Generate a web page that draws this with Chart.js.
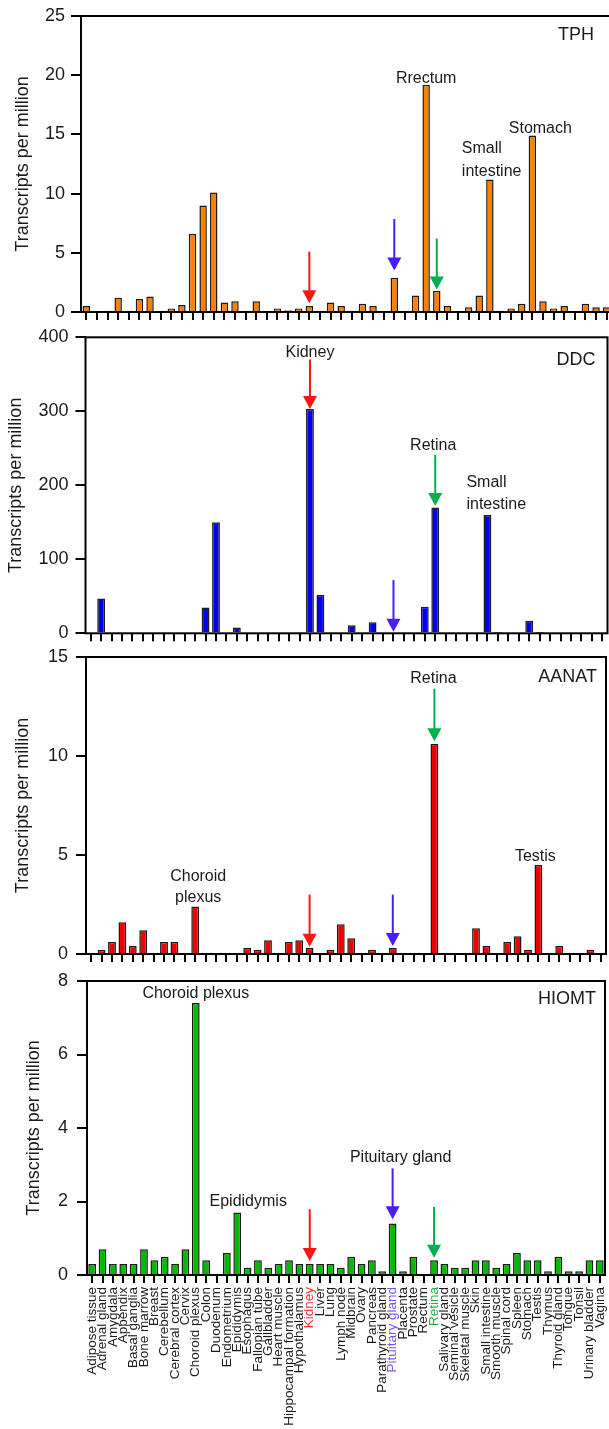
<!DOCTYPE html>
<html>
<head>
<meta charset="utf-8">
<script src="https://cdn.jsdelivr.net/npm/chart.js@4.4.1/dist/chart.umd.min.js"></script>
<style>
  body { margin: 0; width: 609px; height: 1429px; overflow: hidden; background: #fff; position: relative; }
  .panel { position: absolute; left: 0; }
</style>
</head>
<body>
<div class="panel" style="top:0px"><canvas id="tph" width="614" height="322"></canvas></div>
<div class="panel" style="top:322px"><canvas id="ddc" width="609" height="323"></canvas></div>
<div class="panel" style="top:645px"><canvas id="aanat" width="609" height="321"></canvas></div>
<div class="panel" style="top:966px"><canvas id="hiomt" width="609" height="463"></canvas></div>
<script>
// tissues (x categories)
const tissues = ["Adipose tissue", "Adrenal gland", "Amygdala", "Appendix", "Basal ganglia", "Bone marrow",
  "Breast", "Cerebellum", "Cerebral cortex", "Cervix", "Choroid plexus", "Colon", "Duodenum", "Endometrium",
  "Epididymis", "Esophagus", "Fallopian tube", "Gallbladder", "Heart muscle", "Hippocampal formation",
  "Hypothalamus", "Kidney", "Liver", "Lung", "Lymph node", "Midbrain", "Ovary", "Pancreas", "Parathyroid gland",
  "Pituitary gland", "Placenta", "Prostate", "Rectum", "Retina", "Salivary gland", "Seminal vesicle",
  "Skeletal muscle", "Skin", "Small intestine", "Smooth muscle", "Spinal cord", "Spleen", "Stomach", "Testis",
  "Thymus", "Thyroid gland", "Tongue", "Tonsil", "Urinary bladder", "Vagina"];

// transcripts per million
const tphValues = [0.5, 0, 0.1, 1.2, 0.1, 1.1, 1.3, 0.1, 0.3, 0.6, 6.6, 9.0, 10.1, 0.8, 0.9, 0.1, 0.9, 0, 0.3, 0.15,
  0.3, 0.5, 0.1, 0.8, 0.5, 0.1, 0.7, 0.5, 0, 2.9, 0.1, 1.4, 19.2, 1.8, 0.5, 0, 0.4, 1.4, 11.2, 0.1,
  0.3, 0.7, 14.9, 0.9, 0.3, 0.5, 0, 0.7, 0.4, 0.4];
const ddcValues = [0, 47, 0, 1, 0, 0, 0, 0, 0, 0, 0, 35, 150, 0, 8, 0, 0, 0, 0, 0,
  1, 303, 52, 1, 0, 11, 0, 15, 0, 0, 0, 0, 36, 170, 0, 0, 0, 0, 160, 0.5,
  0, 0, 17, 0.5, 0, 0, 0, 0, 0, 0];
const aanatValues = [0, 0.2, 0.6, 1.6, 0.4, 1.2, 0, 0.6, 0.6, 0.05, 2.4, 0.05, 0.05, 0.05, 0.05, 0.3, 0.2, 0.7, 0.05, 0.6,
  0.7, 0.3, 0, 0.2, 1.5, 0.8, 0.05, 0.2, 0, 0.3, 0, 0.05, 0, 10.6, 0.05, 0, 0, 1.3, 0.4, 0,
  0.6, 0.9, 0.2, 4.5, 0, 0.4, 0, 0.05, 0.2, 0];
const hiomtValues = [0.3, 0.7, 0.3, 0.3, 0.3, 0.7, 0.4, 0.5, 0.3, 0.7, 7.4, 0.4, 0, 0.6, 1.7, 0.2, 0.4, 0.2, 0.3, 0.4,
  0.3, 0.3, 0.3, 0.3, 0.2, 0.5, 0.3, 0.4, 0.1, 1.4, 0.1, 0.5, 0, 0.4, 0.3, 0.2, 0.2, 0.4, 0.4, 0.2,
  0.3, 0.6, 0.4, 0.4, 0.1, 0.5, 0.1, 0.1, 0.4, 0.4];

const RED = "#ff1414", BLUE = "#4a1cff", GREEN = "#00b050";
const labelColors = { "Kidney": "#ff2a2a", "Pituitary gland": "#7a55ff", "Retina": "#1db34a" };
const FONT = "'Liberation Sans', Arial, Helvetica, sans-serif";

Chart.defaults.font.family = FONT;
Chart.defaults.color = "#1a1a1a";

// frame, panel name, annotations and arrows
const notesPlugin = {
  id: "notes",
  afterDraw(chart, args, o) {
    const { ctx, chartArea: a } = chart;
    const x = chart.scales.x, y = chart.scales.y;
    ctx.save();
    ctx.strokeStyle = "#000";
    ctx.lineWidth = 2;
    ctx.strokeRect(a.left, a.top, a.right - a.left, a.bottom - a.top);

    ctx.fillStyle = "#1a1a1a";
    ctx.textBaseline = "middle";
    ctx.textAlign = "right";
    ctx.font = "18px " + FONT;
    ctx.fillText(o.title, a.right - o.titleRight, a.top + o.titleTop);

    ctx.font = "16px " + FONT;
    o.labels.forEach(l => {
      ctx.textAlign = l.align || "center";
      ctx.fillText(l.text, x.getPixelForValue(l.i) + (l.dx || 0), y.getPixelForValue(l.y));
    });

    o.arrows.forEach(ar => {
      const px = x.getPixelForValue(ar.i);
      const y0 = y.getPixelForValue(ar.from), y1 = y.getPixelForValue(ar.to);
      ctx.strokeStyle = ar.color;
      ctx.fillStyle = ar.color;
      ctx.lineWidth = 2;
      ctx.beginPath();
      ctx.moveTo(px, y0);
      ctx.lineTo(px, y1 - 11);
      ctx.stroke();
      ctx.beginPath();
      ctx.moveTo(px - 7, y1 - 13);
      ctx.lineTo(px + 7, y1 - 13);
      ctx.lineTo(px, y1);
      ctx.closePath();
      ctx.fill();
    });
    ctx.restore();
  }
};

function makePanel(id, values, color, p) {
  const last = id === "hiomt";
  return new Chart(document.getElementById(id), {
    type: "bar",
    data: {
      labels: tissues,
      datasets: [{
        data: values,
        backgroundColor: color,
        borderColor: "#1a1a1a",
        borderWidth: 1.5,
        categoryPercentage: 1,
        barPercentage: p.barPct
      }]
    },
    options: {
      responsive: false,
      animation: false,
      layout: { padding: { top: p.top, right: p.right, left: 0, bottom: 0 } },
      plugins: {
        legend: { display: false },
        tooltip: { enabled: false },
        notes: p.notes
      },
      scales: {
        x: {
          offset: true,
          grid: { offset: false, drawOnChartArea: false, drawTicks: true, tickLength: 8, color: "#000", lineWidth: 2 },
          border: { display: false },
          ticks: {
            display: last,
            autoSkip: false,
            maxRotation: 90,
            minRotation: 90,
            padding: 4,
            font: { size: 13.5 },
            color: c => labelColors[tissues[c.index]] || "#1a1a1a"
          },
          afterFit(s) {
            s.height = p.xh;
            s.paddingLeft = 0; s.paddingRight = 0;
          }
        },
        y: {
          min: 0,
          max: p.max,
          grid: { drawOnChartArea: false, drawTicks: true, tickLength: 10, color: "#000", lineWidth: 2 },
          border: { display: false },
          ticks: { stepSize: p.step, padding: p.tickPad, font: { size: 18 }, color: "#1a1a1a" },
          title: {
            display: true,
            text: "Transcripts per million",
            font: { size: 18 },
            color: "#1a1a1a",
            padding: { top: p.titlePad, bottom: 0 }
          },
          afterFit(s) {
            s.width = p.left;
            s.paddingTop = 0; s.paddingBottom = 0;
          }
        }
      }
    },
    plugins: [notesPlugin]
  });
}

makePanel("tph", tphValues, "#ff8000", {
  top: 16, right: 2, left: 81, xh: 10, max: 25, step: 5, tickPad: 6, titlePad: 12, barPct: 0.7,
  notes: {
    title: "TPH", titleRight: 18, titleTop: 19,
    labels: [
      { i: 32, y: 19.75, text: "Rrectum" },
      { i: 38, y: 13.8, text: "Small", align: "left", dx: -28 },
      { i: 38, y: 11.9, text: "intestine", align: "left", dx: -28 },
      { i: 42, y: 15.5, text: "Stomach", dx: 8 }
    ],
    arrows: [
      { i: 21, from: 5.1, to: 0.74, color: RED },
      { i: 29, from: 7.85, to: 3.5, color: BLUE },
      { i: 33, from: 6.2, to: 1.9, color: GREEN }
    ]
  }
});

makePanel("ddc", ddcValues, "#0000f0", {
  top: 15.3, right: 1.5, left: 85.5, xh: 11.7, max: 400, step: 100, tickPad: 7, titlePad: 5, barPct: 0.75,
  notes: {
    title: "DDC", titleRight: 12, titleTop: 23,
    labels: [
      { i: 21, y: 380, text: "Kidney" },
      { i: 33, y: 254, text: "Retina", dx: -2 },
      { i: 38, y: 203, text: "Small", align: "left", dx: -21 },
      { i: 38, y: 174, text: "intestine", align: "left", dx: -21 }
    ],
    arrows: [
      { i: 21, from: 370, to: 303, color: RED },
      { i: 33, from: 241, to: 172, color: GREEN },
      { i: 29, from: 72, to: 2, color: BLUE }
    ]
  }
});

makePanel("aanat", aanatValues, "#f00000", {
  top: 12, right: 3, left: 86, xh: 12, max: 15, step: 5, tickPad: 8, titlePad: 12, barPct: 0.75,
  notes: {
    title: "AANAT", titleRight: 9, titleTop: 20,
    labels: [
      { i: 33, y: 13.9, text: "Retina", dx: -1 },
      { i: 43, y: 4.9, text: "Testis", dx: -3 },
      { i: 10, y: 3.9, text: "Choroid", dx: 3 },
      { i: 10, y: 2.83, text: "plexus", dx: 3 }
    ],
    arrows: [
      { i: 33, from: 13.4, to: 10.75, color: GREEN },
      { i: 21, from: 3.0, to: 0.37, color: RED },
      { i: 29, from: 3.0, to: 0.4, color: BLUE }
    ]
  }
});

makePanel("hiomt", hiomtValues, "#00bb00", {
  top: 15, right: 4, left: 87, xh: 154, max: 8, step: 2, tickPad: 9, titlePad: 23, barPct: 0.75,
  notes: {
    title: "HIOMT", titleRight: 9, titleTop: 18,
    labels: [
      { i: 10, y: 7.65, text: "Choroid plexus" },
      { i: 14, y: 2.0, text: "Epididymis", dx: 11 },
      { i: 29, y: 3.2, text: "Pituitary gland", dx: 8 }
    ],
    arrows: [
      { i: 29, from: 2.9, to: 1.52, color: BLUE },
      { i: 21, from: 1.79, to: 0.38, color: RED },
      { i: 33, from: 1.85, to: 0.47, color: GREEN }
    ]
  }
});
</script>
</body>
</html>
